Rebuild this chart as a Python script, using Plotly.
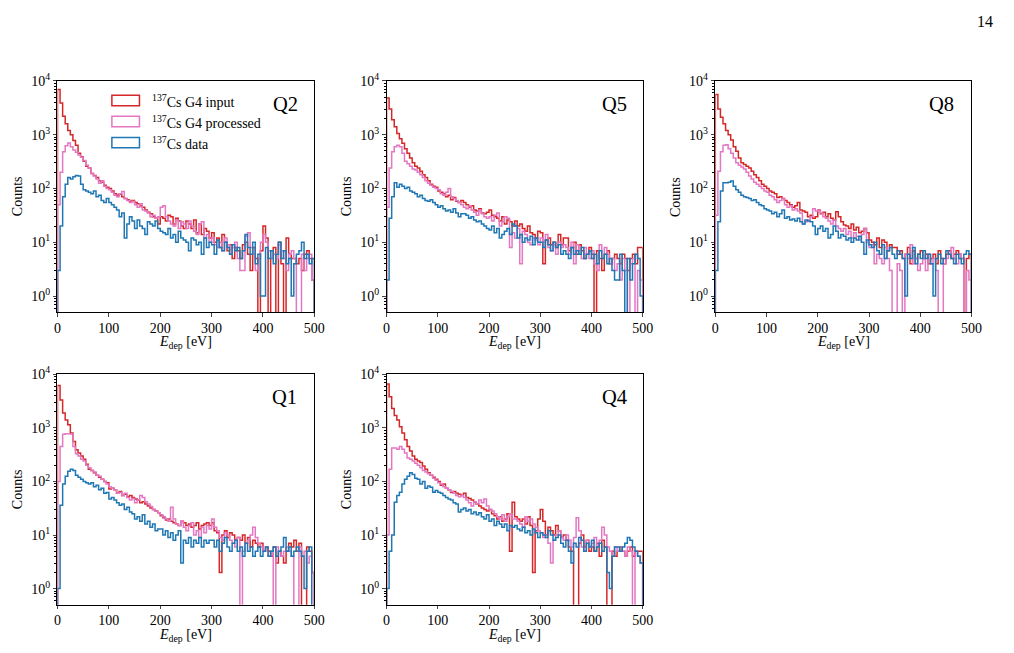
import numpy as np
import plotly.graph_objects as go
from plotly.subplots import make_subplots

# ---------------- data (counts per 5 eV bin, 0-500 eV) ----------------
bin_edges = list(range(0, 505, 5))
panel_names = ["Q2", "Q5", "Q8", "Q1", "Q4"]
series_names = ["<sup>137</sup>Cs G4 input", "<sup>137</sup>Cs G4 processed", "<sup>137</sup>Cs data"]
series_colors = ["#d62728", "#e377c2", "#1f77b4"]

red_q2 = [6900, 3900, 2200, 1600, 1200, 1000, 780, 640, 450, 390,
          320, 260, 240, 190, 175, 160, 140, 130, 115, 105,
          100, 90, 80, 75, 78, 70, 65, 62, 58, 60,
          55, 52, 48, 45, 40, 36, 34, 30, 28, 22,
          30, 28, 25, 32, 30, 22, 28, 25, 20, 18,
          25, 22, 18, 26, 15, 22, 14, 18, 16, 12,
          15, 10, 12, 8, 14, 10, 7, 9, 5, 8,
          7, 5, 9, 10, 6, 3, 8, 5, 0, 7,
          20, 12, 0, 5, 8, 0, 10, 4, 0, 12,
          6, 5, 5, 4, 5, 3, 6, 7, 5, 2]
pink_q2 = [50, 200, 480, 620, 700, 600, 520, 470, 420, 380,
           330, 270, 240, 190, 170, 150, 125, 140, 110, 100,
           95, 85, 75, 70, 80, 88, 65, 60, 55, 58,
           50, 45, 52, 40, 38, 35, 30, 32, 28, 30,
           45, 48, 30, 25, 22, 20, 26, 18, 24, 22,
           18, 25, 20, 16, 14, 22, 24, 12, 14, 10,
           12, 9, 8, 10, 7, 12, 9, 6, 8, 10,
           5, 3, 3, 13, 15, 8, 6, 3, 5, 10,
           14, 10, 7, 5, 6, 5, 9, 7, 5, 3,
           6, 7, 5, 0, 0, 6, 3, 5, 6, 2]
blue_q2 = [3, 20, 70, 120, 160, 150, 165, 175, 170, 120,
           95, 90, 85, 80, 90, 70, 75, 60, 55, 65,
           55, 50, 45, 40, 30, 35, 12, 22, 30, 25,
           18, 26, 20, 18, 14, 24, 22, 20, 25, 18,
           16, 15, 14, 18, 12, 14, 10, 16, 12, 11,
           10, 7, 12, 11, 9, 10, 6, 12, 8, 10,
           9, 6, 11, 8, 7, 10, 8, 6, 9, 7,
           8, 5, 7, 14, 8, 6, 10, 4, 6, 1,
           1, 8, 5, 7, 4, 6, 10, 5, 7, 4,
           5, 1, 4, 6, 7, 10, 5, 6, 4, 5]

red_q5 = [4800, 3000, 1900, 1400, 1050, 840, 690, 550, 450, 370,
          300, 260, 240, 210, 180, 160, 140, 120, 110, 105,
          90, 85, 80, 70, 75, 62, 68, 58, 55, 60,
          55, 50, 45, 48, 40, 38, 42, 35, 34, 36,
          40, 32, 30, 28, 25, 30, 22, 26, 24, 20,
          25, 20, 22, 18, 16, 20, 15, 14, 12, 16,
          15, 4, 11, 12, 9, 10, 8, 14, 9, 12,
          12, 7, 8, 10, 6, 9, 7, 5, 6, 8,
          6, 0, 7, 5, 3, 6, 7, 4, 5, 6,
          5, 4, 6, 5, 3, 5, 6, 4, 8, 8]
pink_q5 = [45, 240, 480, 600, 640, 600, 450, 320, 290, 260,
           230, 220, 200, 180, 160, 140, 125, 115, 105, 100,
           95, 80, 75, 85, 100, 70, 65, 60, 55, 50,
           45, 42, 48, 40, 36, 32, 40, 34, 30, 28,
           30, 25, 32, 35, 20, 24, 30, 28, 8, 15,
           12, 18, 4, 16, 14, 10, 9, 12, 11, 9,
           12, 10, 14, 8, 7, 9, 6, 10, 8, 9,
           8, 6, 10, 4, 9, 7, 5, 8, 6, 5,
           7, 4, 3, 9, 5, 8, 6, 4, 5, 3,
           4, 2, 5, 3, 0, 4, 5, 0, 3, 2]
blue_q5 = [2, 28, 70, 128, 105, 120, 110, 100, 105, 90,
           85, 80, 70, 75, 65, 60, 58, 62, 55, 50,
           45, 48, 42, 38, 40, 36, 42, 35, 30, 34,
           34, 32, 28, 30, 26, 24, 25, 22, 20, 18,
           17, 20, 15, 18, 12, 14, 16, 18, 14, 22,
           20, 12, 14, 10, 12, 11, 13, 9, 12, 10,
           10, 8, 11, 9, 7, 10, 8, 9, 6, 7,
           6, 5, 8, 6, 7, 6, 8, 5, 6, 7,
           5, 6, 4, 7, 5, 6, 4, 5, 3, 2,
           2, 6, 3, 0, 5, 2, 4, 6, 5, 1]

red_q8 = [5600, 3000, 2100, 1600, 1200, 1000, 800, 600, 490, 370,
          300, 280, 260, 240, 210, 180, 160, 140, 120, 110,
          100, 90, 85, 80, 68, 70, 65, 60, 55, 50,
          45, 48, 55, 40, 38, 36, 30, 32, 28, 30,
          40, 34, 36, 30, 34, 28, 26, 37, 30, 24,
          21, 20, 18, 22, 17, 19, 15, 16, 18, 15,
          11, 10, 9, 12, 8, 11, 10, 7, 9, 8,
          8, 6, 7, 5, 6, 8, 4, 7, 5, 6,
          7, 5, 6, 4, 5, 6, 4, 7, 5, 4,
          6, 7, 5, 6, 7, 6, 5, 0, 5, 6]
pink_q8 = [32, 210, 480, 640, 650, 550, 450, 370, 300, 270,
           250, 230, 200, 170, 150, 130, 120, 110, 100, 90,
           85, 75, 70, 62, 55, 60, 65, 50, 45, 48,
           40, 42, 38, 35, 22, 24, 26, 30, 42, 38,
           40, 35, 30, 28, 25, 22, 26, 20, 18, 16,
           18, 14, 16, 12, 15, 13, 11, 14, 18, 10,
           8, 9, 4, 6, 5, 4, 8, 5, 3, 0,
           0, 4, 3, 0, 6, 5, 9, 4, 5, 3,
           4, 5, 3, 6, 4, 5, 3, 0, 0, 4,
           5, 6, 8, 5, 4, 6, 5, 0, 3, 2]
blue_q8 = [3, 24, 90, 128, 128, 130, 138, 110, 95, 85,
           75, 70, 68, 65, 60, 62, 55, 50, 48, 42,
           40, 38, 34, 36, 30, 34, 40, 28, 30, 26,
           27, 25, 28, 24, 22, 26, 25, 24, 20, 14,
           18, 20, 16, 18, 12, 14, 20, 16, 12, 14,
           13, 11, 12, 10, 12, 11, 13, 10, 6, 11,
           9, 8, 10, 7, 6, 9, 5, 7, 8, 6,
           5, 7, 6, 5, 1, 6, 5, 8, 4, 6,
           5, 7, 5, 6, 4, 1, 5, 6, 4, 5,
           7, 6, 5, 4, 6, 5, 4, 6, 7, 6]

red_q1 = [6200, 3300, 1900, 1400, 1150, 800, 560, 390, 340, 300,
          260, 210, 170, 160, 145, 130, 120, 110, 100, 95,
          72, 75, 70, 60, 65, 55, 58, 52, 55, 50,
          47, 45, 40, 42, 38, 35, 32, 30, 28, 26,
          23, 21, 19, 20, 18, 17, 16, 15, 18, 17,
          15, 16, 14, 15, 17, 13, 15, 16, 17, 15,
          17, 12, 11, 2, 10, 12, 9, 11, 10, 8,
          9, 8, 10, 7, 9, 6, 8, 7, 6, 7,
          5, 6, 5, 4, 6, 3, 5, 4, 3, 5,
          7, 6, 8, 5, 7, 0, 0, 6, 5, 2]
pink_q1 = [100, 450, 760, 780, 780, 770, 450, 330, 300, 260,
           240, 200, 180, 160, 150, 130, 125, 110, 100, 90,
           80, 75, 70, 60, 62, 55, 60, 50, 45, 48,
           40, 45, 55, 50, 42, 38, 34, 30, 28, 26,
           24, 22, 20, 18, 33, 20, 16, 15, 18, 14,
           12, 15, 17, 10, 12, 9, 14, 11, 15, 13,
           20, 14, 12, 9, 8, 11, 10, 8, 7, 6,
           9, 0, 5, 7, 8, 10, 14, 9, 7, 6,
           5, 6, 4, 5, 0, 6, 5, 4, 5, 6,
           5, 4, 0, 0, 6, 4, 5, 3, 4, 2]
blue_q1 = [1, 36, 90, 125, 155, 170, 160, 130, 120, 110,
           100, 95, 90, 95, 80, 85, 70, 75, 60, 62,
           47, 50, 45, 40, 36, 38, 30, 33, 27, 25,
           20, 22, 18, 24, 16, 18, 14, 16, 12, 13,
           13, 10, 12, 9, 11, 8, 10, 12, 3, 8,
           7, 9, 6, 8, 7, 9, 6, 8, 7, 8,
           8, 6, 8, 5, 7, 9, 6, 5, 7, 8,
           5, 6, 4, 7, 5, 6, 4, 5, 6, 4,
           5, 6, 4, 5, 6, 4, 5, 6, 9, 5,
           6, 4, 5, 6, 5, 4, 1, 5, 6, 0]

red_q4 = [6600, 3800, 2300, 1700, 1400, 1050, 800, 600, 450, 370,
          300, 260, 240, 225, 195, 170, 145, 130, 120, 110,
          100, 85, 90, 75, 70, 62, 65, 60, 58, 55,
          60, 50, 48, 45, 41, 38, 35, 32, 30, 28,
          30, 25, 23, 20, 22, 18, 20, 25, 5, 41,
          22, 20, 18, 20, 16, 22, 15, 2, 12, 20,
          30, 18, 10, 14, 12, 10, 15, 12, 9, 10,
          8, 6, 5, 0, 0, 7, 10, 6, 8, 5,
          6, 5, 7, 4, 8, 6, 0, 0, 5, 4,
          5, 6, 5, 4, 5, 6, 4, 5, 5, 5]
pink_q4 = [10, 170, 420, 420, 400, 450, 400, 340, 275, 260,
           240, 220, 200, 180, 160, 150, 140, 130, 115, 105,
           95, 90, 80, 75, 70, 65, 60, 55, 52, 55,
           50, 45, 40, 35, 42, 38, 45, 40, 47, 35,
           30, 28, 25, 22, 20, 24, 18, 22, 25, 20,
           20, 18, 16, 14, 22, 18, 20, 16, 14, 12,
           11, 9, 10, 7, 3, 8, 10, 12, 9, 8,
           10, 8, 6, 9, 21, 12, 6, 5, 8, 6,
           7, 9, 6, 8, 14, 10, 6, 5, 4, 6,
           5, 6, 5, 4, 6, 5, 0, 5, 4, 3]
blue_q4 = [1, 5, 10, 41, 55, 63, 90, 110, 125, 145,
           135, 115, 110, 90, 100, 75, 82, 78, 63, 68,
           63, 60, 55, 50, 47, 45, 40, 38, 27, 30,
           32, 28, 30, 25, 27, 24, 26, 22, 20, 24,
           18, 20, 15, 18, 16, 14, 16, 12, 15, 14,
           15, 13, 12, 14, 11, 12, 10, 13, 11, 9,
           11, 10, 9, 12, 10, 8, 9, 10, 7, 6,
           8, 5, 3, 7, 6, 9, 8, 5, 7, 6,
           8, 5, 6, 7, 5, 6, 2, 1, 4, 6,
           6, 5, 6, 7, 9, 8, 6, 5, 4, 3]

panel_series = [
    (red_q2, pink_q2, blue_q2),
    (red_q5, pink_q5, blue_q5),
    (red_q8, pink_q8, blue_q8),
    (red_q1, pink_q1, blue_q1),
    (red_q4, pink_q4, blue_q4),
]
panel_cells = [(1, 1), (1, 2), (1, 3), (2, 1), (2, 2)]

y_tick_vals = [1, 10, 100, 1000, 10000]
y_tick_text = ["10<sup>0</sup>", "10<sup>1</sup>", "10<sup>2</sup>", "10<sup>3</sup>", "10<sup>4</sup>"]
x_tick_vals = [0, 100, 200, 300, 400, 500]
x_title = "<i>E</i><sub>dep</sub> [eV]"
y_title = "Counts"

# ---------------- figure ----------------
W, H = 1014, 653
FONT = "Liberation Serif"
FLOOR = 0.1  # zero-count bins drawn below the axis floor (clipped)
TICK_SIZE = 14
LABEL_SIZE = 14
LEGEND_SIZE = 14


def px(x):
    return x / W


def py(y):
    return 1 - y / H


fig = make_subplots(rows=2, cols=3, specs=[[{}, {}, {}], [{}, {}, None]])


def step_xy(vals):
    xs = [bin_edges[0]] + bin_edges[:-1] + [bin_edges[-1], bin_edges[-1]]
    ys = [FLOOR] + [max(v, FLOOR) for v in vals] + [max(vals[-1], FLOOR), FLOOR]
    return xs, ys


for (r, c), series in zip(panel_cells, panel_series):
    for name, color, vals in zip(series_names, series_colors, series):
        xs, ys = step_xy(vals)
        fig.add_trace(go.Scatter(x=xs, y=ys, mode="lines", line=dict(color=color, width=1.5, shape="hv"),
                                 name=name, showlegend=False, hoverinfo="skip"), row=r, col=c)

# axis boxes in page pixels
col_px = [(54.3, 315.0), (388.3, 648.3), (722.0, 982.0)]
row_px = [(72.0, 307.0), (370.0, 604.0)]

minor_vals = []
for dec in [0.1, 1, 10, 100, 1000]:
    for k in range(2, 10):
        v = k * dec
        if v >= 0.55:
            minor_vals.append(v)

for i, (r, c) in enumerate(panel_cells):
    ax = "" if i == 0 else str(i + 1)
    x0, x1 = col_px[c - 1]
    top, bot = row_px[r - 1]
    fig.layout["xaxis" + ax].update(
        domain=[px(x0), px(x1)], range=[0, 500], tickvals=x_tick_vals, ticks="outside", ticklen=3.5,
        tickwidth=1, showline=True, linecolor="black", linewidth=1, mirror=True, showgrid=False,
        zeroline=False, tickfont=dict(family=FONT, size=TICK_SIZE, color="black"), ticklabelstandoff=-1,
    )
    fig.layout["yaxis" + ax].update(
        domain=[py(bot), py(top)], type="log", range=[np.log10(0.5), 4], tickvals=y_tick_vals,
        ticktext=y_tick_text, ticks="outside", ticklen=3.5, tickwidth=1, showline=True, linecolor="black",
        linewidth=1, mirror=True, showgrid=False, zeroline=False,
        tickfont=dict(family=FONT, size=TICK_SIZE, color="black"),
        minor=dict(tickvals=minor_vals, ticks="outside", ticklen=2, tickwidth=0.8, tickcolor="black", showgrid=False),
    )
    # axis titles placed as text
    fig.add_annotation(x=px((x0 + x1) / 2), y=py(bot + 31), xref="paper", yref="paper", text=x_title,
                       showarrow=False, font=dict(family=FONT, size=LABEL_SIZE, color="black"),
                       xanchor="center", yanchor="middle")
    fig.add_annotation(x=px(x0 - 40.5), y=py((top + bot) / 2), xref="paper", yref="paper", text=y_title,
                       showarrow=False, textangle=-90, font=dict(family=FONT, size=LABEL_SIZE, color="black"),
                       xanchor="center", yanchor="middle")

# panel labels
label_px = [(286, 95), (620, 95), (952, 95), (285, 393), (620, 393)]
for name, (lx, ly) in zip(panel_names, label_px):
    fig.add_annotation(x=px(lx), y=py(ly), xref="paper", yref="paper", text=name, showarrow=False,
                       font=dict(family=FONT, size=20.5, color="black"), xanchor="center", yanchor="middle")

# legend (in first panel) drawn as outlined patches
leg_x0, leg_x1 = 109.5, 137.5
leg_rows = [92.0, 113.3, 134.7]
for name, color, cy in zip(series_names, series_colors, leg_rows):
    fig.add_shape(type="rect", xref="paper", yref="paper", x0=px(leg_x0), x1=px(leg_x1),
                  y0=py(cy + 5.3), y1=py(cy - 5.3), line=dict(color=color, width=1.5),
                  fillcolor="rgba(0,0,0,0)")
    fig.add_annotation(x=px(148), y=py(cy), xref="paper", yref="paper", text=name, showarrow=False,
                       font=dict(family=FONT, size=LEGEND_SIZE, color="black"), xanchor="left", yanchor="middle")

# page number
fig.add_annotation(x=px(996), y=py(12), xref="paper", yref="paper", text="14", showarrow=False,
                   font=dict(family=FONT, size=16, color="black"), xanchor="center", yanchor="middle")

fig.update_layout(width=W, height=H, margin=dict(l=0, r=0, t=0, b=0), paper_bgcolor="white",
                  plot_bgcolor="white", showlegend=False, font=dict(family=FONT, color="black"))

fig.write_html("out.html")
